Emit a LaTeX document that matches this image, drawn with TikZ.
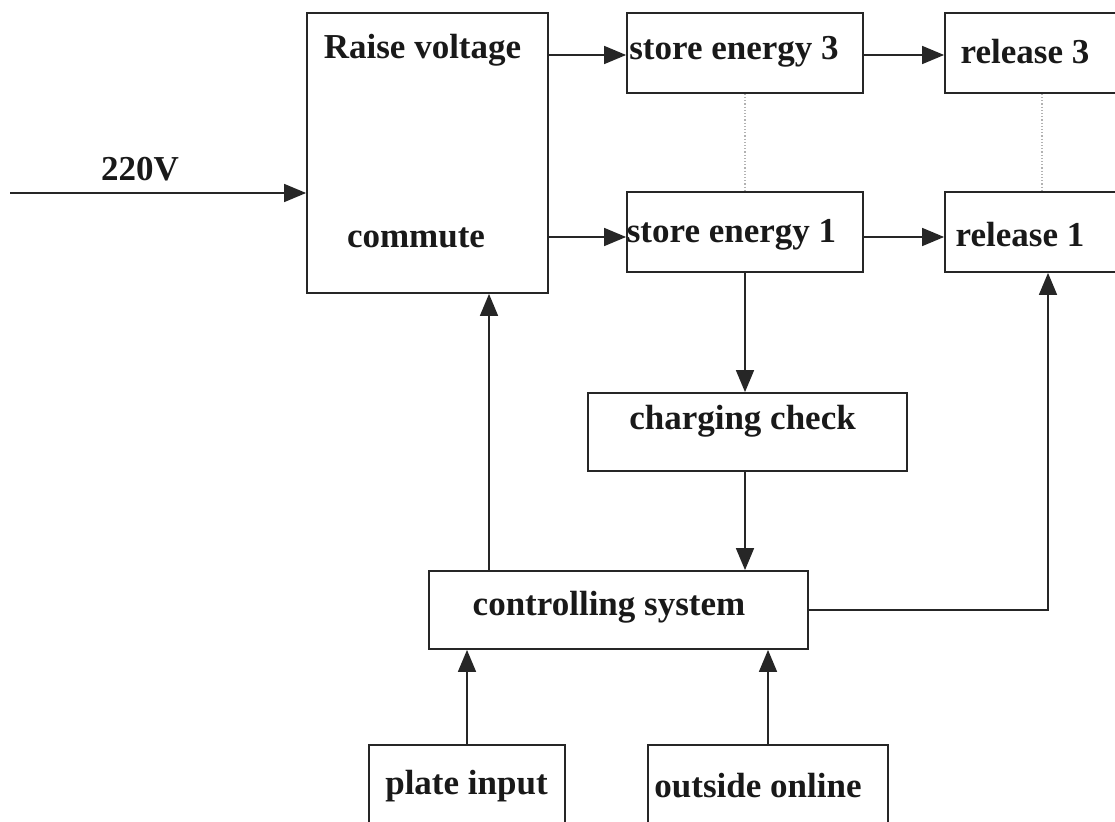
\documentclass[tikz,border=0pt]{standalone}
\usepackage{fontspec}
\setmainfont{Liberation Serif}
\usetikzlibrary{arrows.meta,calc}
\begin{document}
\begin{tikzpicture}[x=1pt,y=-1pt,
  box/.style={draw=black!85,line width=1.8pt,inner sep=0pt},
  lbl/.style={font=\fontsize{35}{38}\selectfont\bfseries,inner sep=0pt,text=black!90},
  arr/.style={draw=black!85,line width=1.6pt,-{Triangle[length=22pt,width=18pt]}},
  dot/.style={draw=black!30,line width=1.2pt,dotted}]
\useasboundingbox (0,0) rectangle (1115,821);
\clip (0,0) rectangle (1115,821);
% nodes
\node[box,minimum width=241pt,minimum height=280pt] (conv) at (427.5,153) {};
\node[lbl] (tr) at (422.5,50) {Raise voltage};
\node[lbl] (tc) at (416,238) {commute};
\node[box,minimum width=236pt,minimum height=80pt] (se3) at (745,53) {};
\node[lbl] (tse3) at (734,52) {store energy 3};
\node[box,minimum width=236pt,minimum height=80pt] (se1) at (745,232) {};
\node[lbl] (tse1) at (731.5,235) {store energy 1};
\node[box,minimum width=206pt,minimum height=80pt] (rel3) at (1048,53) {};
\node[lbl] (trel3) at (1025,52) {release 3};
\node[box,minimum width=206pt,minimum height=80pt] (rel1) at (1048,232) {};
\node[lbl] (trel1) at (1020,235) {release 1};
\node[box,minimum width=319pt,minimum height=78pt] (chk) at (747.5,432) {};
\node[lbl] (tchk) at (742.5,421) {charging check};
\node[box,minimum width=379pt,minimum height=78pt] (ctl) at (618.5,610) {};
\node[lbl] (tctl) at (609,607) {controlling system};
\node[box,minimum width=196pt,minimum height=120pt] (pin) at (467,805) {};
\node[lbl] (tpin) at (466.5,786) {plate input};
\node[box,minimum width=240pt,minimum height=120pt] (out) at (768,805) {};
\node[lbl] (tout) at (758,786) {outside online};
\node[lbl] (v) at (140,169) {220V};
\coordinate (src) at (10,193);
\coordinate (up) at (489,0);
% connectors
\draw[arr] (src) -- (src -| conv.west);
\draw[arr] ($(conv.east |- se3)+(0,2)$) -- ($(se3.west)+(0,2)$);
\draw[arr] ($(conv.east |- se1)+(0,5)$) -- ($(se1.west)+(0,5)$);
\draw[arr] ($(se3.east)+(0,2)$) -- ($(rel3.west)+(0,2)$);
\draw[arr] ($(se1.east)+(0,5)$) -- ($(rel1.west)+(0,5)$);
\draw[dot] (se3.south) -- (se1.north);
\draw[dot] ($(rel3.south)+(-6,0)$) -- ($(rel1.north)+(-6,0)$);
\draw[arr] (se1.south) -- (se1.south |- chk.north);
\draw[arr] (se1.south |- chk.south) -- (se1.south |- ctl.north);
\draw[arr] (ctl.north -| up) -- (conv.south -| up);
\draw[arr] (ctl.east) -| (rel1.south);
\draw[arr] (pin.north) -- (pin.north |- ctl.south);
\draw[arr] (out.north) -- (out.north |- ctl.south);
\end{tikzpicture}
\end{document}
